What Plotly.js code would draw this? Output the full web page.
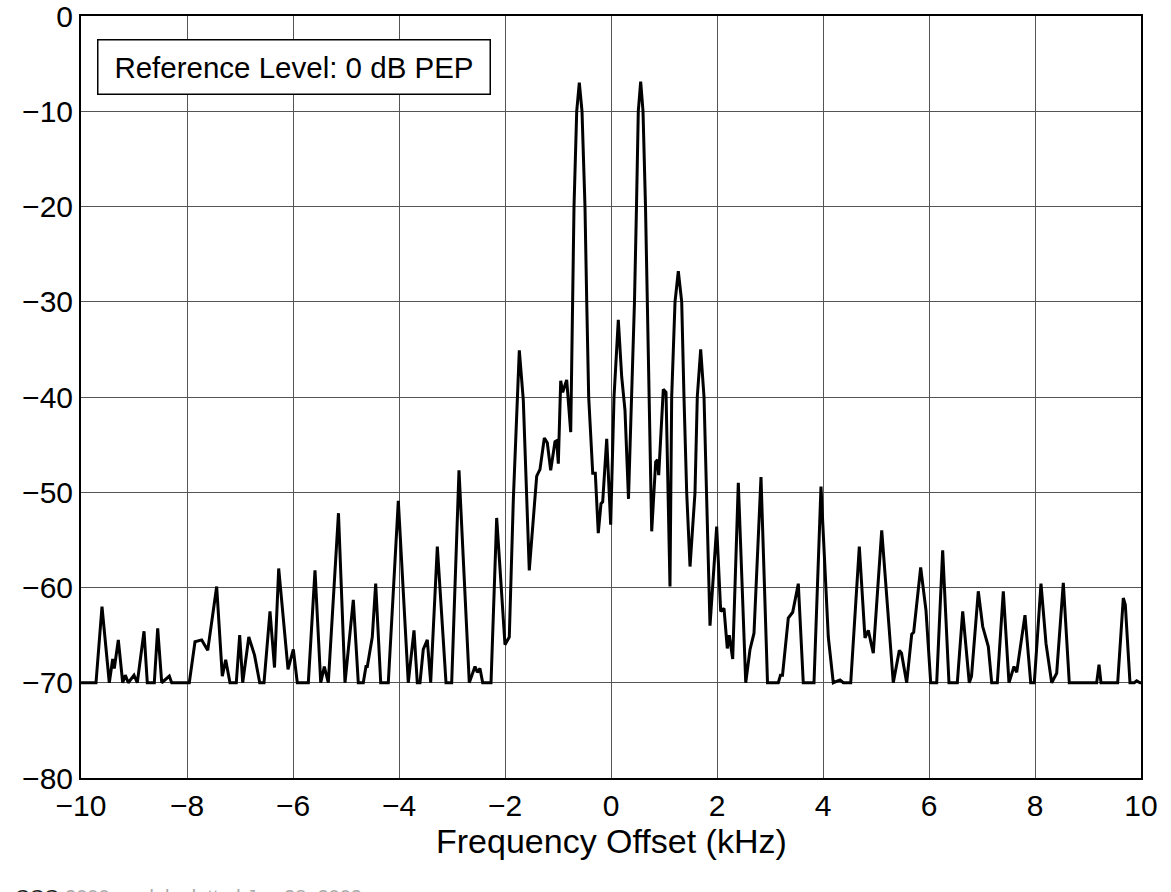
<!DOCTYPE html>
<html>
<head>
<meta charset="utf-8">
<script src="https://cdn.plot.ly/plotly-3.0.1.min.js"></script>
<style>html,body{margin:0;padding:0;background:#fff;}#chart{width:1171px;height:892px;}</style>
</head>
<body>
<div id="chart"></div>
<script>
// Frequency offset (kHz)
const freqKHz = [
-10.0,-9.717,-9.604,-9.466,-9.402,-9.372,-9.296,-9.213,-9.164,-9.108,-9.0,-8.938,-8.811,-8.749,-8.617,-8.553,-8.477,-8.334,-8.289,-7.957,
-7.849,-7.723,-7.609,-7.440,-7.334,-7.270,-7.189,-7.070,-7.006,-6.949,-6.834,-6.726,-6.628,-6.547,-6.434,-6.349,-6.270,-6.094,-5.994,-5.919,
-5.711,-5.585,-5.477,-5.409,-5.334,-5.142,-5.019,-4.862,-4.768,-4.674,-4.623,-4.598,-4.504,-4.440,-4.345,-4.202,-4.013,-3.825,-3.717,-3.655,
-3.604,-3.542,-3.466,-3.402,-3.277,-3.113,-3.006,-2.868,-2.674,-2.566,-2.523,-2.472,-2.421,-2.264,-2.157,-2.0,-1.919,-1.843,-1.730,-1.655,
-1.542,-1.466,-1.402,-1.340,-1.258,-1.202,-1.138,-1.057,-1.025,-0.994,-0.949,-0.911,-0.836,-0.760,-0.723,-0.698,-0.647,-0.598,-0.547,-0.491,
-0.458,-0.421,-0.345,-0.296,-0.240,-0.189,-0.157,-0.081,-0.006,0.057,0.138,0.202,0.264,0.330,0.377,0.443,0.481,0.515,0.560,0.604,
0.651,0.689,0.723,0.768,0.843,0.877,0.900,0.987,1.038,1.113,1.145,1.208,1.270,1.334,1.377,1.428,1.491,1.585,1.628,1.692,
1.755,1.806,1.843,1.868,1.994,2.070,2.132,2.194,2.232,2.296,2.402,2.542,2.623,2.698,2.830,2.953,3.157,3.198,3.236,3.315,
3.345,3.428,3.534,3.628,3.830,3.962,4.100,4.194,4.321,4.383,4.523,4.685,4.792,4.855,4.949,5.108,5.326,5.440,5.481,5.579,
5.674,5.711,5.843,5.943,6.032,6.145,6.258,6.377,6.534,6.636,6.760,6.802,6.930,7.013,7.119,7.183,7.289,7.402,7.509,7.604,
7.655,7.811,7.919,7.987,8.113,8.208,8.315,8.409,8.534,8.647,9.164,9.208,9.245,9.560,9.666,9.704,9.792,9.874,9.919,9.981,10.0
];
// Relative level (dB, reference 0 dB PEP)
const levelDB = [
-70,-70,-62.0,-70,-67.5,-68.5,-65.5,-70,-69.2,-70,-69.2,-70,-64.6,-70,-70,-64.3,-70,-69.3,-70,-70,
-65.7,-65.5,-66.6,-59.9,-69.3,-67.6,-70,-70,-65.0,-70,-65.2,-67.1,-70,-70,-62.5,-68.4,-58.0,-68.6,-66.5,-70,
-70,-58.2,-70,-68.3,-70,-52.2,-70,-61.3,-70,-70,-68.3,-68.3,-65.2,-59.6,-70,-70,-50.9,-70,-64.5,-70,
-70,-66.5,-65.5,-70,-55.7,-70,-70,-47.7,-70,-68.3,-68.9,-68.5,-70,-70,-52.7,-66.0,-65.2,-50.8,-35.1,-40.3,
-58.2,-52.6,-48.3,-47.6,-44.3,-44.8,-47.7,-44.7,-44.6,-47.0,-38.3,-39.5,-38.2,-43.7,-30,-20,-10,-7.0,-10,-20,
-30,-40,-48.0,-48.0,-54.3,-51.2,-51.0,-44.4,-53.4,-40.0,-31.9,-37.9,-41.4,-50.7,-42,-30,-20,-10,-6.9,-10,
-20,-30,-40,-54.1,-46.8,-46.6,-48.2,-39.2,-39.5,-59.9,-40,-30,-26.8,-30,-40,-50,-57.8,-50,-40,-35.0,
-40,-50,-60,-64.0,-53.6,-62.5,-62.2,-66.4,-65.0,-67.5,-49.0,-70,-66.5,-64.8,-48.4,-70,-70,-69.2,-69.2,-64.8,
-63.2,-62.6,-59.6,-70,-70,-49.4,-65.2,-70,-69.7,-70,-70,-55.7,-65.3,-64.5,-66.9,-54.0,-70,-66.6,-66.9,-70,
-64.9,-64.7,-57.9,-62.4,-70,-70,-56.1,-70,-70,-62.5,-70,-69.3,-60.4,-64.1,-66.2,-70,-70,-60.4,-70,-68.3,
-68.9,-62.9,-70,-70,-59.6,-65.9,-70,-69.0,-59.5,-70,-70,-68.1,-70,-70,-61.1,-61.8,-70,-70,-69.8,-70,-70
];
const xTicks = [-10,-8,-6,-4,-2,0,2,4,6,8,10];
const yTicks = [-80,-70,-60,-50,-40,-30,-20,-10,0];
const refLabel = 'Reference Level: 0 dB PEP';
const xLabel = 'Frequency Offset (kHz)';
const footerLead = 'CCG';
const footerRest = ' 2000 model, plotted Jan 28, 2003';

const font = 'Arial, "Liberation Sans", Helvetica, sans-serif';
const fmt = v => v < 0 ? '\u2212' + Math.abs(v) : String(v);
const trace = {
  x: freqKHz, y: levelDB, type: 'scatter', mode: 'lines',
  line: {color: '#000', width: 3}, hoverinfo: 'skip'
};
const axisCommon = {
  showline: true, linecolor: '#000', linewidth: 2, mirror: true,
  showgrid: true, gridcolor: '#555', gridwidth: 1,
  zeroline: false, ticks: '', ticklabeloverflow: 'allow',
  tickfont: {family: font, size: 30, color: '#000'}
};
const layout = {
  width: 1171, height: 892,
  margin: {l: 81, r: 30, t: 16, b: 114},
  paper_bgcolor: '#fff', plot_bgcolor: '#fff',
  showlegend: false,
  xaxis: Object.assign({}, axisCommon, {
    range: [-10, 10], tickvals: xTicks, ticktext: xTicks.map(fmt)
  }),
  yaxis: Object.assign({}, axisCommon, {
    range: [-80, 0], tickvals: yTicks, ticktext: yTicks.map(fmt)
  }),
  annotations: [
    {xref: 'paper', yref: 'paper', x: 0.5, y: -0.0825, xanchor: 'center', yanchor: 'middle',
     text: xLabel, showarrow: false, font: {family: font, size: 34, color: '#000'}},
    {xref: 'paper', yref: 'paper', x: 0.0151, y: 0.970, xanchor: 'left', yanchor: 'top',
     text: '\u2009' + refLabel + '\u2009', showarrow: false, font: {family: font, size: 29.5, color: '#000'},
     bgcolor: '#fff', bordercolor: '#000', borderwidth: 1.5, borderpad: 10},
    {xref: 'paper', yref: 'paper', x: -0.064, y: -0.139, xanchor: 'left', yanchor: 'top',
     text: '<span style="color:#222">' + footerLead + '</span>' + footerRest,
     showarrow: false, font: {family: font, size: 20, color: '#aaa'}}
  ]
};
Plotly.newPlot('chart', [trace], layout, {staticPlot: true, displayModeBar: false});
</script>
</body>
</html>
